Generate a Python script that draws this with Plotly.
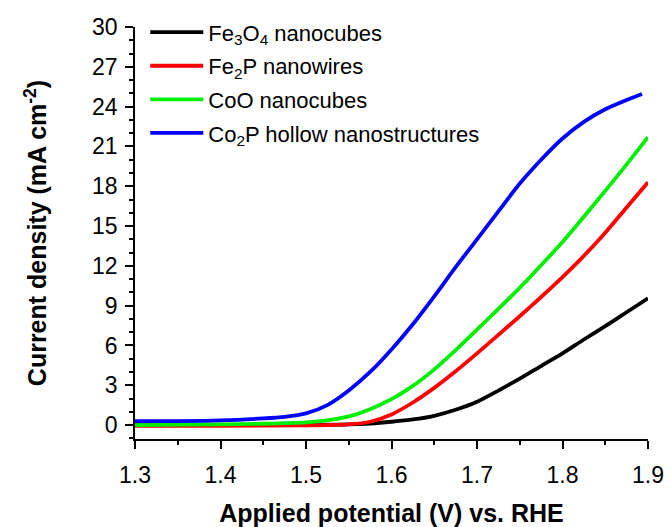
import plotly.graph_objects as go

# Data
x_fe3o4 = [1.30, 1.40, 1.50, 1.55, 1.575, 1.60, 1.625, 1.65, 1.675, 1.70, 1.725, 1.75, 1.775, 1.80, 1.825, 1.85, 1.875, 1.90]
y_fe3o4 = [0.0, 0.0, 0.02, 0.05, 0.12, 0.25, 0.42, 0.7, 1.15, 1.75, 2.6, 3.5, 4.45, 5.4, 6.45, 7.45, 8.5, 9.55]

x_fe2p = [1.30, 1.40, 1.50, 1.525, 1.55, 1.575, 1.60, 1.625, 1.65, 1.675, 1.70, 1.725, 1.75, 1.775, 1.80, 1.825, 1.85, 1.875, 1.90]
y_fe2p = [-0.05, -0.05, -0.02, 0.0, 0.05, 0.25, 0.8, 1.7, 2.8, 4.05, 5.4, 6.8, 8.2, 9.65, 11.15, 12.75, 14.5, 16.4, 18.3]

x_coo = [1.30, 1.40, 1.45, 1.50, 1.525, 1.55, 1.575, 1.60, 1.625, 1.65, 1.675, 1.70, 1.725, 1.75, 1.775, 1.80, 1.825, 1.85, 1.875, 1.90]
y_coo = [0.0, 0.05, 0.1, 0.2, 0.35, 0.65, 1.2, 1.95, 2.95, 4.2, 5.65, 7.2, 8.75, 10.35, 12.05, 13.8, 15.7, 17.65, 19.65, 21.7]

x_co2p = [1.30, 1.35, 1.40, 1.45, 1.475, 1.50, 1.525, 1.55, 1.575, 1.60, 1.625, 1.65, 1.675, 1.70, 1.725, 1.75, 1.775, 1.80, 1.825, 1.85, 1.875, 1.893]
y_co2p = [0.3, 0.3, 0.35, 0.5, 0.62, 0.88, 1.5, 2.6, 4.0, 5.7, 7.6, 9.7, 11.9, 14.0, 16.1, 18.2, 20.0, 21.6, 22.85, 23.8, 24.5, 24.95]

names = ["Fe<sub>3</sub>O<sub>4</sub> nanocubes", "Fe<sub>2</sub>P nanowires",
         "CoO nanocubes", "Co<sub>2</sub>P hollow nanostructures"]
colors = ["#000000", "#ff0000", "#00ee00", "#0000ff"]

x_ticks = [1.3, 1.4, 1.5, 1.6, 1.7, 1.8, 1.9]
x_ticklabels = ["1.3", "1.4", "1.5", "1.6", "1.7", "1.8", "1.9"]
y_ticks = [0, 3, 6, 9, 12, 15, 18, 21, 24, 27, 30]

FONT = "Arial, Liberation Sans, sans-serif"

fig = go.Figure()
series = [(x_fe3o4, y_fe3o4), (x_fe2p, y_fe2p), (x_coo, y_coo), (x_co2p, y_co2p)]
for i, ((xs, ys), nm, c) in enumerate(zip(series, names, colors)):
    fig.add_trace(go.Scatter(x=xs, y=ys, mode="lines", name=nm, legendgroup=f"g{i}",
                             line=dict(color=c, width=3.8, shape="spline", smoothing=0.7)))

fig.update_layout(
    width=670, height=527,
    margin=dict(l=135, r=22, t=27, b=88, autoexpand=False),
    paper_bgcolor="white", plot_bgcolor="white",
    font=dict(family=FONT, color="black"),
    showlegend=True,
    legend=dict(x=0.02, y=1.038, xanchor="left", yanchor="top",
                bgcolor="rgba(0,0,0,0)", font=dict(size=22, family=FONT),
                itemwidth=53, tracegroupgap=2),
    xaxis=dict(range=[1.3, 1.9], tickvals=x_ticks, ticktext=x_ticklabels, automargin=False,
               showgrid=False, zeroline=False, showline=True, linecolor="black", linewidth=1.5,
               ticks="outside", ticklen=8, tickwidth=1.5, tickcolor="black",
               tickfont=dict(size=23, family=FONT), ticklabelstandoff=7,
               minor=dict(dtick=0.05, ticks="outside", ticklen=4, tickwidth=1.5, tickcolor="black"),
               title=dict(text="<b>Applied potential (V) vs. RHE</b>", font=dict(size=25, family=FONT), standoff=22)),
    yaxis=dict(range=[-1.05, 30], tickvals=y_ticks, automargin=False,
               showgrid=False, zeroline=False, showline=True, linecolor="black", linewidth=1.5,
               ticks="outside", ticklen=8, tickwidth=1.5, tickcolor="black",
               tickfont=dict(size=23, family=FONT), ticklabelstandoff=3,
               minor=dict(tick0=0, dtick=1, ticks="outside", ticklen=4, tickwidth=1.5, tickcolor="black"),
               title=dict(text="<b>Current density (mA cm<sup>-2</sup>)</b>", font=dict(size=25, family=FONT), standoff=38)),
)

# remove the default 8px body margin so the 670x527 figure fills the window exactly
fig.write_html("out.html", config={"displayModeBar": False},
               post_script="document.body.style.margin='0';document.body.style.overflow='hidden';")
